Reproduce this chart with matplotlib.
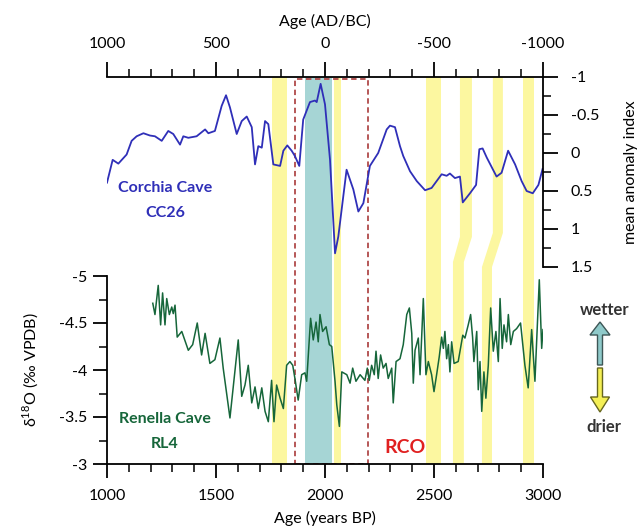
import matplotlib
matplotlib.use('Agg')
import matplotlib.pyplot as plt
from matplotlib.ticker import MultipleLocator, FixedLocator, FuncFormatter
from matplotlib.patches import Rectangle, Polygon, FancyArrow

plt.rcParams['font.family'] = ['Lato', 'DejaVu Sans']
plt.rcParams['axes.unicode_minus'] = False
plt.rcParams['mathtext.fontset'] = 'custom'
plt.rcParams['mathtext.rm'] = 'Lato'

# Corchia Cave CC26 (mean anomaly index)
cc26_age = [1000, 1026, 1052, 1090, 1113, 1136, 1167, 1197, 1220, 1251,
            1281, 1304, 1335, 1350, 1373, 1411, 1450, 1465, 1495, 1526,
            1546, 1564, 1595, 1618, 1641, 1664, 1679, 1694, 1710, 1725,
            1740, 1763, 1794, 1809, 1827, 1847, 1862, 1882, 1900, 1931,
            1954, 1962, 1980, 2000, 2023, 2046, 2061, 2099, 2130, 2153,
            2176, 2206, 2244, 2283, 2298, 2321, 2344, 2359, 2390, 2421,
            2459, 2489, 2535, 2558, 2573, 2596, 2619, 2632, 2665, 2693,
            2708, 2723, 2742, 2787, 2810, 2840, 2872, 2902, 2925, 2953,
            2979, 2998]
cc26_idx = [0.39, 0.09, 0.14, 0.02, -0.16, -0.22, -0.26, -0.23, -0.22, -0.16,
            -0.29, -0.25, -0.11, -0.22, -0.20, -0.22, -0.31, -0.26, -0.29, -0.62,
            -0.76, -0.60, -0.25, -0.42, -0.48, -0.34, 0.15, -0.09, -0.07, -0.42,
            -0.38, 0.15, 0.17, -0.03, -0.10, -0.03, 0.04, 0.17, -0.44, -0.67,
            -0.69, -0.67, -0.91, -0.64, 0.09, 1.32, 1.10, 0.22, 0.48, 0.77,
            0.66, 0.17, 0.00, -0.31, -0.36, -0.34, -0.09, 0.04, 0.24, 0.37,
            0.49, 0.46, 0.28, 0.30, 0.27, 0.33, 0.31, 0.65, 0.53, 0.42,
            -0.05, -0.06, 0.06, 0.31, 0.26, -0.03, 0.15, 0.37, 0.50, 0.53,
            0.42, 0.21]

# Renella Cave RL4 (d18O)
rl4_age = [1210, 1220, 1235, 1246, 1255, 1266, 1274, 1286, 1297, 1304,
           1312, 1322, 1343, 1373, 1393, 1414, 1434, 1450, 1472, 1495,
           1518, 1533, 1564, 1602, 1618, 1633, 1648, 1664, 1679, 1694,
           1710, 1725, 1740, 1755, 1766, 1778, 1794, 1809, 1824, 1839,
           1852, 1862, 1877, 1893, 1908, 1916, 1934, 1946, 1959, 1969,
           1977, 1989, 2005, 2020, 2031, 2046, 2054, 2066, 2077, 2100,
           2115, 2127, 2142, 2161, 2183, 2194, 2203, 2214, 2226, 2234,
           2244, 2255, 2267, 2280, 2290, 2306, 2313, 2326, 2344, 2359,
           2375, 2387, 2398, 2405, 2413, 2428, 2436, 2451, 2463, 2474,
           2489, 2500, 2512, 2524, 2535, 2543, 2550, 2558, 2566, 2573,
           2581, 2592, 2611, 2632, 2642, 2657, 2668, 2677, 2683, 2696,
           2703, 2711, 2719, 2729, 2738, 2749, 2760, 2772, 2784, 2795,
           2803, 2813, 2821, 2833, 2841, 2852, 2864, 2879, 2897, 2917,
           2932, 2948, 2963, 2983, 2994, 3000]
rl4_d18o = [-4.71, -4.59, -4.90, -4.48, -4.82, -4.48, -4.76, -4.59, -4.67, -4.60,
            -4.69, -4.35, -4.41, -4.21, -4.27, -4.50, -4.16, -4.39, -4.07, -4.11,
            -4.34, -4.02, -3.49, -4.32, -3.72, -3.84, -4.05, -3.65, -3.82, -3.59,
            -3.81, -3.56, -3.45, -3.89, -3.45, -3.84, -3.70, -3.59, -4.05, -4.09,
            -4.05, -3.91, -3.68, -3.95, -3.97, -3.88, -4.55, -4.32, -4.51, -4.30,
            -4.59, -4.41, -4.46, -4.27, -4.25, -3.88, -3.63, -3.40, -3.98, -3.95,
            -3.86, -4.02, -3.88, -3.95, -3.89, -4.02, -3.89, -4.05, -3.95, -4.20,
            -3.91, -4.16, -4.02, -4.07, -3.91, -4.02, -3.65, -4.09, -4.12, -4.27,
            -4.59, -4.66, -4.39, -3.86, -4.21, -4.34, -3.95, -4.76, -3.95, -4.09,
            -3.95, -3.77, -3.95, -4.14, -4.35, -4.23, -4.41, -4.12, -4.27, -3.98,
            -4.30, -4.07, -4.09, -4.37, -4.34, -4.48, -4.59, -4.35, -4.09, -4.41,
            -3.79, -4.09, -3.56, -3.98, -3.70, -4.05, -4.66, -4.20, -4.41, -4.09,
            -4.76, -4.23, -4.48, -4.30, -4.59, -4.27, -4.41, -4.44, -4.50, -4.05,
            -3.81, -4.43, -3.88, -4.96, -4.23, -4.43]

# shaded intervals (years BP)
yellow_bands = [(1757, 1826), (2040, 2075), (2465, 2533), (2910, 2960)]
# bands that shift between the two records: (top_left, top_right, bottom_left, bottom_right, kink_hi, kink_lo)
shifted_bands = [(2619, 2674, 2587, 2637, 0.587, 0.522),
                 (2770, 2816, 2720, 2766, 0.597, 0.509)]
teal_band = (1910, 2033)
rco = (1862, 2197)
ad_ticks = [1000, 500, 0, -500, -1000]

yellow_c = '#fcf7a0'
teal_c = '#a6d5d5'
blue_c = '#2f2fb8'
green_c = '#16663a'
fmt = FuncFormatter(lambda v, p: '%g' % (v + 0.0))

fig = plt.figure(figsize=(6.44, 5.29), dpi=100)
L, W = 107 / 644, 436 / 644

bg = fig.add_axes([L, 65 / 529, W, 387 / 529])
bg.set_xlim(1000, 3000)
bg.set_ylim(0, 1)
bg.axis('off')
for a, b in yellow_bands:
    bg.axvspan(a, b, color=yellow_c, lw=0)
for tl, tr, bl, br, kh, kl in shifted_bands:
    bg.add_patch(Polygon([(tl, 1), (tr, 1), (tr, kh), (br, kl), (br, 0),
                          (bl, 0), (bl, kl), (tl, kh)], closed=True,
                         fc=yellow_c, lw=0))
bg.axvspan(*teal_band, color=teal_c, lw=0)
bg.add_patch(Rectangle((rco[0], 0), rco[1] - rco[0], 0.995, fill=False,
                       ls=(0, (3, 2)), ec='#b04a4a', lw=1.3))

# upper panel: CC26
ax1 = fig.add_axes([L, 262 / 529, W, 190 / 529], facecolor='none')
ax1.plot(cc26_age, cc26_idx, color=blue_c, lw=1.3)
ax1.set_xlim(1000, 3000)
ax1.set_ylim(1.5, -1)
for s in ['left', 'bottom', 'top']:
    ax1.spines[s].set_visible(False)
ax1.spines['right'].set_linewidth(1.3)
ax1.tick_params(axis='x', bottom=False, labelbottom=False)
ax1.yaxis.tick_right()
ax1.yaxis.set_label_position('right')
ax1.yaxis.set_major_locator(MultipleLocator(0.5))
ax1.yaxis.set_minor_locator(MultipleLocator(0.25))
ax1.yaxis.set_major_formatter(fmt)
ax1.tick_params(axis='y', which='major', length=10.8, width=1.3, pad=9, labelsize=11.5)
ax1.tick_params(axis='y', which='minor', length=5.8, width=1.1)
ax1.set_ylabel('mean anomaly index', fontsize=11.5, labelpad=18)

sec = ax1.secondary_xaxis('top', functions=(lambda x: 2000 - x, lambda x: 2000 - x))
sec.xaxis.set_major_locator(FixedLocator(ad_ticks))
sec.xaxis.set_minor_locator(FixedLocator(list(range(-1000, 1001, 100))))
sec.xaxis.set_major_formatter(fmt)
sec.spines['top'].set_linewidth(1.3)
sec.tick_params(which='major', length=10.8, width=1.3, pad=8, labelsize=11.5)
sec.tick_params(which='minor', length=5.5, width=1.1)
sec.set_xlabel('Age (AD/BC)', fontsize=11.5, labelpad=8)

ax1.text(1266, 0.46, 'Corchia Cave', color=blue_c, fontsize=11.5,
         fontweight='bold', ha='center', va='center')
ax1.text(1266, 0.79, 'CC26', color=blue_c, fontsize=11.5,
         fontweight='bold', ha='center', va='center')

# lower panel: RL4
ax2 = fig.add_axes([L, 65 / 529, W, 188 / 529], facecolor='none')
ax2.plot(rl4_age, rl4_d18o, color=green_c, lw=1.1)
ax2.set_xlim(1000, 3000)
ax2.set_ylim(-3, -5)
for s in ['top', 'right']:
    ax2.spines[s].set_visible(False)
for s in ['left', 'bottom']:
    ax2.spines[s].set_linewidth(1.3)
ax2.xaxis.set_major_locator(MultipleLocator(500))
ax2.xaxis.set_minor_locator(MultipleLocator(100))
ax2.yaxis.set_major_locator(MultipleLocator(0.5))
ax2.yaxis.set_minor_locator(MultipleLocator(0.25))
ax2.xaxis.set_major_formatter(fmt)
ax2.yaxis.set_major_formatter(fmt)
ax2.tick_params(which='major', length=10, width=1.3, labelsize=11.5)
ax2.tick_params(axis='x', which='major', pad=8)
ax2.tick_params(axis='y', which='major', pad=4)
ax2.tick_params(which='minor', length=5.8, width=1.1)
ax2.set_xlabel('Age (years BP)', fontsize=11.5, labelpad=6)
ax2.set_ylabel(r'δ$^{18}$O (‰ VPDB)', fontsize=11.5, labelpad=13)

ax2.text(1266, -3.48, 'Renella Cave', color=green_c, fontsize=11.5,
         fontweight='bold', ha='center', va='center')
ax2.text(1266, -3.21, 'RL4', color=green_c, fontsize=11.5,
         fontweight='bold', ha='center', va='center')
ax2.text(2367, -3.18, 'RCO', color='#e02020', fontsize=14,
         fontweight='bold', ha='center', va='center')

# wetter / drier arrows
tr = fig.dpi_scale_trans
fig.add_artist(FancyArrow(6.00, 1.64, 0, 0.43, width=0.05, head_width=0.20,
                          head_length=0.13, length_includes_head=True,
                          transform=tr, fc='#8fcaca', ec='#3d5656', lw=1))
fig.add_artist(FancyArrow(6.00, 1.61, 0, -0.44, width=0.05, head_width=0.19,
                          head_length=0.15, length_includes_head=True,
                          transform=tr, fc='#f4ef55', ec='#66661e', lw=1))
fig.text(605 / 644, 1 - 310 / 529, 'wetter', fontsize=12, fontweight='bold',
         color='#333333', ha='center', va='center')
fig.text(604 / 644, 1 - 427 / 529, 'drier', fontsize=12, fontweight='bold',
         color='#333333', ha='center', va='center')

fig.savefig('out.png', dpi=100)
